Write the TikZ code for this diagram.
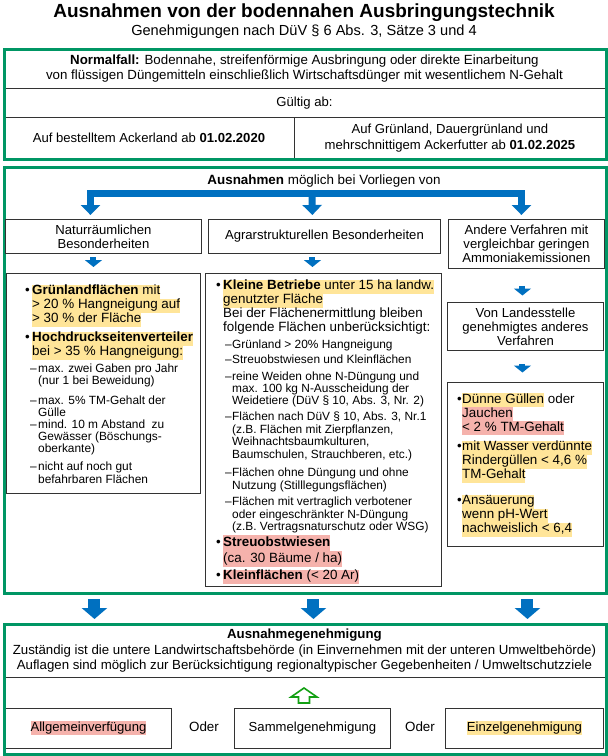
\documentclass[tikz,border=0pt]{standalone}
\usepackage{fontspec}
\setmainfont{Liberation Sans}
\usetikzlibrary{positioning,arrows.meta,calc}

\definecolor{boxgreen}{RGB}{0,150,100}
\definecolor{arrblue}{RGB}{0,112,192}
\definecolor{hlyellow}{RGB}{255,229,153}
\definecolor{hlred}{RGB}{245,178,172}
\definecolor{upgreen}{RGB}{20,160,20}

\newcommand{\hly}[1]{{\setlength{\fboxsep}{0pt}\colorbox{hlyellow}{\strut#1}}}
\newcommand{\hlr}[1]{{\setlength{\fboxsep}{0pt}\colorbox{hlred}{\strut#1}}}

\tikzset{
  gbox/.style={draw=boxgreen, line width=2.8pt, inner sep=0pt, anchor=north west},
  cell/.style={draw=black!80, line width=0.9pt, inner sep=0pt, anchor=north west, align=center, font=\fontsize{13.1}{14}\selectfont},
  txt/.style={inner sep=0pt, anchor=north west, align=left, font=\fontsize{13.4}{14}\selectfont, execute at begin node=\strut},
  sub/.style={inner sep=0pt, anchor=north west, align=left, font=\fontsize{11.9}{12.4}\selectfont, execute at begin node=\strut},
  bigarrow/.style={draw=arrblue, line width=7pt, line join=miter, shorten >=4pt, -{Triangle[width=19pt,length=10pt]}},
  downarrow/.style={draw=arrblue, line width=12pt, shorten <=4.5pt, shorten >=4pt, -{Triangle[width=25pt,length=11pt]}},
  smallarrow/.style={draw=arrblue, line width=6pt, -{Triangle[width=17pt,length=7pt]}},
}

\begin{document}
\begin{tikzpicture}[x=1pt,y=-1pt]
\useasboundingbox (0,0) rectangle (608,756);
\fill[white] (0,0) rectangle (608,756);

% title
\node[font=\fontsize{19}{21}\selectfont\bfseries] (title) at (304,13) {Ausnahmen von der bodennahen Ausbringungstechnik};
\node[font=\fontsize{14.6}{17}\selectfont] (subtitle) at (304,32) {Genehmigungen nach DüV § 6 Abs. 3, Sätze 3 und 4};

% Normalfall
\node[cell, minimum width=602pt, minimum height=40pt, font=\fontsize{13.3}{15}\selectfont] (normal) at (3,48) {\textbf{Normalfall:} Bodennahe, streifenförmige Ausbringung oder direkte Einarbeitung\\von flüssigen Düngemitteln einschließlich Wirtschaftsdünger mit wesentlichem N-Gehalt};
\node[cell, minimum width=602pt, minimum height=29pt] (gueltig) at (3,88) {Gültig ab:};
\node[cell, minimum width=291pt, minimum height=41pt] (acker) at (3,117) {Auf bestelltem Ackerland ab \textbf{01.02.2020}};
\node[cell, minimum width=311pt, minimum height=41pt, font=\fontsize{13.1}{15.5}\selectfont] (gruen) at (294,117) {Auf Grünland, Dauergrünland und\\mehrschnittigem Ackerfutter ab \textbf{01.02.2025}};
\node[gbox, minimum width=602pt, minimum height=110pt] (g1) at (3,48) {};

% Ausnahmen
\node[gbox, minimum width=602pt, minimum height=426pt] (g2) at (3,166) {};
\node[txt, anchor=center] (ausn) at (324,182) {\textbf{Ausnahmen} möglich bei Vorliegen von};
\coordinate (fork) at (312,193.5);

\node[cell, minimum width=196pt, minimum height=34pt] (nat) at (5,219) {Naturräumlichen\\Besonderheiten};
\node[cell, minimum width=232pt, minimum height=34pt] (agr) at (208,219) {Agrarstrukturellen Besonderheiten};
\node[cell, minimum width=156pt, minimum height=49pt] (andv) at (448,219) {Andere Verfahren mit\\vergleichbar geringen\\Ammoniakemissionen};

\draw[bigarrow] (fork) -| ([xshift=-13pt]nat.north);
\draw[bigarrow] (fork) -- ([xshift=-12pt]agr.north);
\draw[bigarrow] (fork) -| ([xshift=-5pt]andv.north);

\node[cell, minimum width=194pt, minimum height=220pt] (natl) at (6,273) {};
\node[cell, minimum width=236pt, minimum height=313pt] (agrl) at (205,273) {};
\node[cell, minimum width=156pt, minimum height=48pt] (lst) at (447,302) {Von Landesstelle\\genehmigtes anderes\\Verfahren};
\node[cell, minimum width=156pt, minimum height=164pt] (andl) at (447,382) {};

\draw[smallarrow, shorten <=3.5pt, shorten >=6pt] ([xshift=-10pt]nat.south) -- ([xshift=-10pt]natl.north);
\draw[smallarrow, shorten <=3.5pt, shorten >=6pt] ([xshift=-12pt]agr.south) -- ([xshift=-11pt]agrl.north);
\draw[smallarrow, shorten <=17pt, shorten >=6.5pt] ([xshift=-4pt]andv.south) -- ([xshift=-3pt]lst.north);
\draw[smallarrow, shorten <=13.5pt, shorten >=9.5pt] ([xshift=-3pt]lst.south) -- ([xshift=-3pt]andl.north);

% naturraeumliche Besonderheiten
\node[txt] (nb1) at (25,284.7) {•};
\node[txt] (nt1) at (32,284.7) {\hly{\textbf{Grünlandflächen} mit}\\\hly{> 20 \% Hangneigung auf}\\\hly{> 30 \% der Fläche}};
\node[txt] (nb2) at (25,331.4) {•};
\node[txt] (nt2) at (32,331.4) {\hly{\textbf{Hochdruckseitenverteiler}}\\\hly{bei > 35 \% Hangneigung:}};
\node[sub] (nd1) at (30,363.6) {–}; \node[sub] (ns1) at (38,363.6) {max. zwei Gaben pro Jahr\\(nur 1 bei Beweidung)};
\node[sub] (nd2) at (30,395.3) {–}; \node[sub] (ns2) at (38,395.3) {max. 5\% TM-Gehalt der\\Gülle};
\node[sub] (nd3) at (30,419.3) {–}; \node[sub] (ns3) at (38,419.3) {mind. 10 m Abstand\ \ zu\\Gewässer (Böschungs-\\oberkante)};
\node[sub] (nd4) at (30,462) {–}; \node[sub] (ns4) at (38,462) {nicht auf noch gut\\befahrbaren Flächen};

% agrarstrukturelle Besonderheiten
\node[txt] (mb1) at (216,279.7) {•};
\node[txt] (mt1) at (223,279.7) {\hly{\textbf{Kleine Betriebe} unter 15 ha landw.}\\\hly{genutzter Fläche}\\Bei der Flächenermittlung bleiben\\folgende Flächen unberücksichtigt:};
\node[sub] (md1) at (225,339.3) {–}; \node[sub] (ms1) at (232,339.3) {Grünland > 20\% Hangneigung};
\node[sub] (md2) at (225,354.6) {–}; \node[sub] (ms2) at (232,354.6) {Streuobstwiesen und Kleinflächen};
\node[sub] (md3) at (225,371.3) {–}; \node[sub] (ms3) at (232,371.3) {reine Weiden ohne N-Düngung und\\max. 100 kg N-Ausscheidung der\\Weidetiere (DüV § 10, Abs. 3, Nr. 2)};
\node[sub] (md4) at (225,412) {–}; \node[sub] (ms4) at (232,412) {Flächen nach DüV § 10, Abs. 3, Nr.1\\(z.B. Flächen mit Zierpflanzen,\\Weihnachtsbaumkulturen,\\Baumschulen, Strauchberen, etc.)};
\node[sub] (md5) at (225,468) {–}; \node[sub] (ms5) at (232,468) {Flächen ohne Düngung und ohne\\Nutzung (Stilllegungsflächen)};
\node[sub] (md6) at (225,497) {–}; \node[sub] (ms6) at (232,497) {Flächen mit vertraglich verbotener\\oder eingeschränkter N-Düngung\\(z.B. Vertragsnaturschutz oder WSG)};
\node[txt, font=\fontsize{13.4}{16}\selectfont] (mb2) at (216,535) {•};
\node[txt, font=\fontsize{13.4}{16}\selectfont] (mt2) at (223,535) {\hlr{\textbf{Streuobstwiesen}}\\\hlr{(ca. 30 Bäume / ha)}};
\node[txt] (mb3) at (216,569.7) {•};
\node[txt] (mt3) at (223,569.7) {\hlr{\textbf{Kleinflächen} (< 20 Ar)}};

% andere Verfahren
\node[txt] (rb1) at (457,393) {•};
\node[txt] (rt1) at (462,393) {\hly{Dünne Güllen} oder\\\hlr{Jauchen}\\\hlr{< 2 \% TM-Gehalt}};
\node[txt] (rb2) at (457,440.7) {•};
\node[txt] (rt2) at (462,440.7) {\hly{mit Wasser verdünnte}\\\hly{Rindergüllen < 4,6 \%}\\\hly{TM-Gehalt}};
\node[txt] (rb3) at (457,494.7) {•};
\node[txt] (rt3) at (462,494.7) {\hly{Ansäuerung}\\\hly{wenn pH-Wert}\\\hly{nachweislich < 6,4}};

% Ausnahmegenehmigung
\node[cell, minimum width=602pt, minimum height=54pt, font=\fontsize{13.25}{15}\selectfont] (gen) at (3,623) {\textbf{Ausnahmegenehmigung}\\[1pt]Zuständig ist die untere Landwirtschaftsbehörde (in Einvernehmen mit der unteren Umweltbehörde)\\Auflagen sind möglich zur Berücksichtigung regionaltypischer Gegebenheiten / Umweltschutzziele};
\node[cell, minimum width=166pt, minimum height=40pt] (allg) at (5,708) {\hlr{Allgemeinverfügung}};
\node[txt, anchor=center] (oder1) at (204,729) {Oder};
\node[cell, minimum width=156pt, minimum height=40pt] (samm) at (234,708) {Sammelgenehmigung};
\node[txt, anchor=center] (oder2) at (420,729) {Oder};
\node[cell, minimum width=158pt, minimum height=40pt] (einz) at (445,708) {\hly{Einzelgenehmigung}};
\node[gbox, minimum width=602pt, minimum height=130pt] (g3) at (3,623) {};

\draw[downarrow] ($(g2.south -| nat.south)+(-9,0)$) -- ($(g3.north -| nat.south)+(-9,0)$);
\draw[downarrow] ($(g2.south -| agr.south)+(-11,0)$) -- ($(g3.north -| agr.south)+(-11,0)$);
\draw[downarrow] ($(g2.south -| andv.south)+(1,0)$) -- ($(g3.north -| andv.south)+(1,0)$);

\coordinate (up) at (304,703);
\draw[upgreen, line width=1.6pt, line join=miter] (up) ++(-5.5,0) -- ++(0,-6) -- ++(-7.5,0) -- ++(13,-9) -- ++(13,9) -- ++(-7.5,0) -- ++(0,6) -- cycle;
\end{tikzpicture}
\end{document}
